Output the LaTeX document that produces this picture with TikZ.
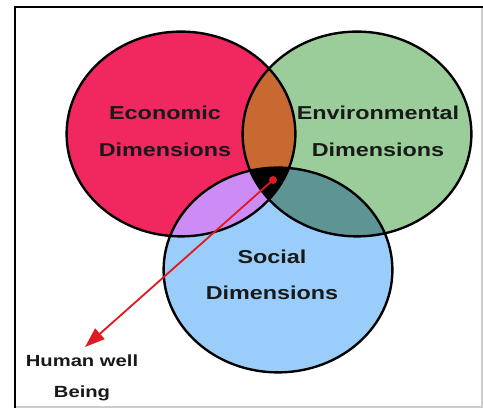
\documentclass[tikz,border=0pt]{standalone}
\usepackage{fontspec}
\setsansfont{Liberation Sans}[FakeStretch=1.25]
\usetikzlibrary{arrows.meta}
\definecolor{econ}{HTML}{F0285F}
\definecolor{env}{HTML}{9BCD9B}
\definecolor{social}{HTML}{9BCDFA}
\definecolor{econenv}{HTML}{C86932}
\definecolor{econsocial}{HTML}{CD8CF5}
\definecolor{envsocial}{HTML}{5F9494}
\definecolor{pointer}{HTML}{E01A1E}

\def\econshape{(4.525,6.85) ellipse (2.86 and 2.56)}
\def\envshape{(8.925,6.85) ellipse (2.86 and 2.56)}
\def\socialshape{(6.95,3.45) ellipse (2.86 and 2.56)}

\tikzset{
  outline/.style={draw=black, line width=1.7pt},
  dimlabel/.style={font=\sffamily\bfseries\fontsize{13.3}{26}\selectfont, align=center, text=black!90},
  smalllabel/.style={font=\sffamily\bfseries\fontsize{11.5}{22}\selectfont, align=center, text=black!90},
}

\begin{document}
\begin{tikzpicture}
    \useasboundingbox (0,0) rectangle (12.075,10.2);
    \fill [white] (0,0) rectangle (12.075,10.2);
    % frame
    \draw [black!20, line width=0.8pt] (12.05,10.025) -- (12.05,0.025) -- (0.375,0.025);
    \draw [black, line width=1.8pt] (0.375,0) -- (0.375,10.025) -- (12.075,10.025);
    % circles
    \fill [econ] \econshape;
    \fill [env] \envshape;
    \fill [social] \socialshape;
    \begin{scope}
      \clip \econshape;
      \fill [econenv] \envshape;
      \fill [econsocial] \socialshape;
    \end{scope}
    \begin{scope}
      \clip \envshape;
      \fill [envsocial] \socialshape;
      \clip \econshape;
      \fill [black] \socialshape;
    \end{scope}
    \draw [outline] \econshape;
    \draw [outline] \envshape;
    \draw [outline] \socialshape;
    % labels
    \node [dimlabel] (econ) at (4.125,6.91) {Economic\\Dimensions};
    \node [dimlabel] (env) at (9.45,6.91) {Environmental\\Dimensions};
    \node [dimlabel] (social) at (6.8,3.33) {Social\\Dimensions};
    \node [smalllabel] (human) at (2.05,0.76) {Human well\\Being};
    % pointer
    \node [circle, fill=pointer, inner sep=0pt, minimum size=0.2cm] (dot) at (6.825,5.7) {};
    \coordinate (tip) at (2.125,1.525);
    \draw [pointer, line width=1.3pt, -{Triangle[length=0.5cm, width=0.35cm]}] (dot.center) -- (tip);
  \end{tikzpicture}
\end{document}
